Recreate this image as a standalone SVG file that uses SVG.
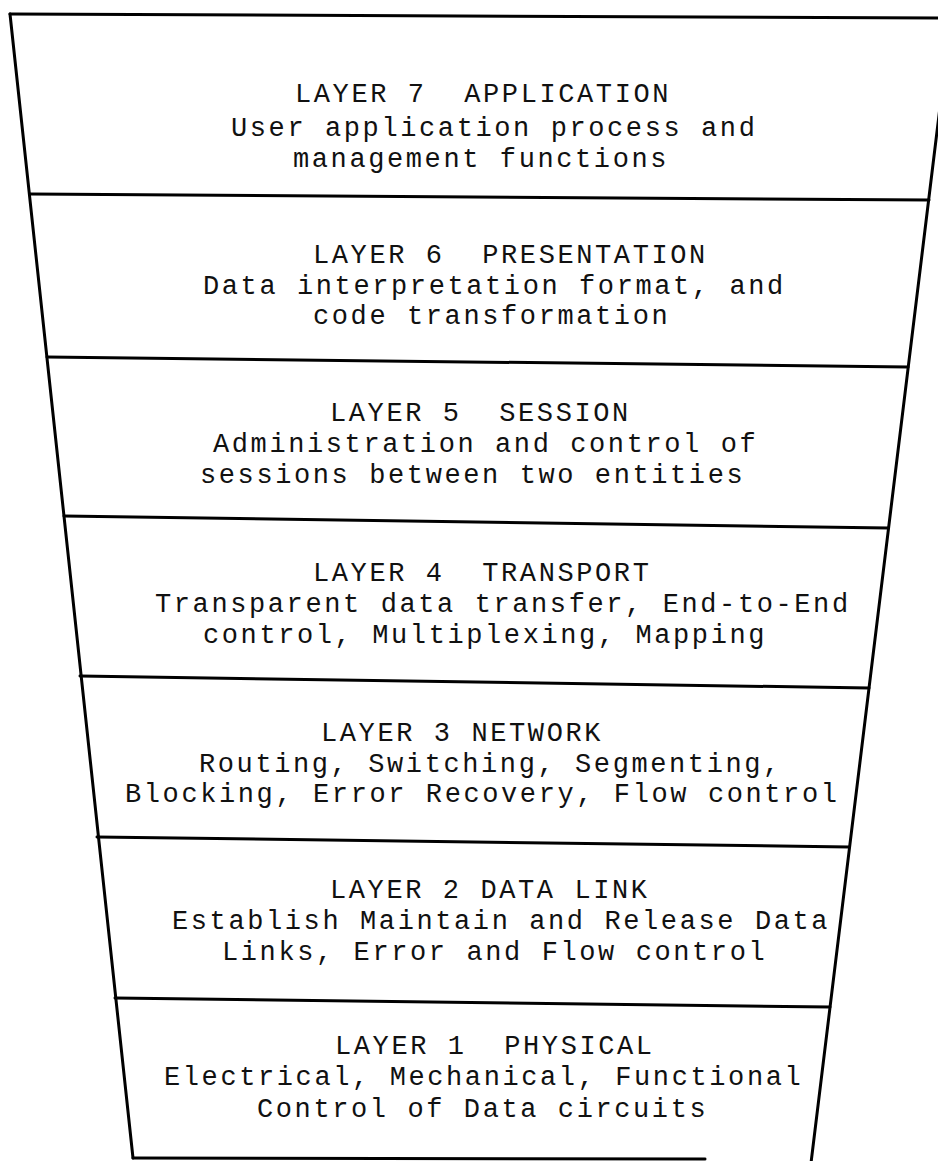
<svg xmlns="http://www.w3.org/2000/svg" width="938" height="1161" viewBox="0 0 938 1161">
<style>
.ln{stroke:#000;stroke-width:3;fill:none;stroke-linecap:round}
.t{font-family:"Liberation Mono","DejaVu Sans Mono",monospace;font-size:27px;letter-spacing:2.6px;fill:#111;white-space:pre}
</style>
<rect width="938" height="1161" fill="#fff"/>
<g id="outline">
<line class="ln" x1="10" y1="14" x2="945" y2="18"/>
<line class="ln" x1="10" y1="14" x2="133" y2="1158"/>
<line class="ln" x1="951" y1="17" x2="811" y2="1163"/>
<line class="ln" x1="133" y1="1158" x2="705" y2="1159"/>
</g>
<g id="separators">
<line class="ln" x1="30" y1="194" x2="929" y2="200"/>
<line class="ln" x1="47" y1="357" x2="908" y2="367"/>
<line class="ln" x1="64" y1="516" x2="888" y2="528"/>
<line class="ln" x1="80" y1="676" x2="869" y2="688"/>
<line class="ln" x1="97" y1="837" x2="849" y2="847"/>
<line class="ln" x1="115" y1="998" x2="830" y2="1007"/>
</g>
<g id="layer7">
<text class="t" x="295" y="102">LAYER 7  APPLICATION</text>
<text class="t" x="231" y="136">User application process and</text>
<text class="t" x="293" y="167">management functions</text>
</g>
<g id="layer6">
<text class="t" x="313" y="263">LAYER 6  PRESENTATION</text>
<text class="t" x="203" y="294">Data interpretation format, and</text>
<text class="t" x="313" y="324">code transformation</text>
</g>
<g id="layer5">
<text class="t" x="330" y="421">LAYER 5  SESSION</text>
<text class="t" x="213" y="452">Administration and control of</text>
<text class="t" x="200" y="483">sessions between two entities</text>
</g>
<g id="layer4">
<text class="t" x="313" y="581">LAYER 4  TRANSPORT</text>
<text class="t" x="155" y="612">Transparent data transfer, End-to-End</text>
<text class="t" x="203" y="643">control, Multiplexing, Mapping</text>
</g>
<g id="layer3">
<text class="t" x="321" y="741">LAYER 3 NETWORK</text>
<text class="t" x="199" y="772">Routing, Switching, Segmenting,</text>
<text class="t" x="125" y="802">Blocking, Error Recovery, Flow control</text>
</g>
<g id="layer2">
<text class="t" x="330" y="898">LAYER 2 DATA LINK</text>
<text class="t" x="172" y="929">Establish Maintain and Release Data</text>
<text class="t" x="222" y="960">Links, Error and Flow control</text>
</g>
<g id="layer1">
<text class="t" x="335" y="1054">LAYER 1  PHYSICAL</text>
<text class="t" x="164" y="1085">Electrical, Mechanical, Functional</text>
<text class="t" x="257" y="1117">Control of Data circuits</text>
</g>
</svg>
